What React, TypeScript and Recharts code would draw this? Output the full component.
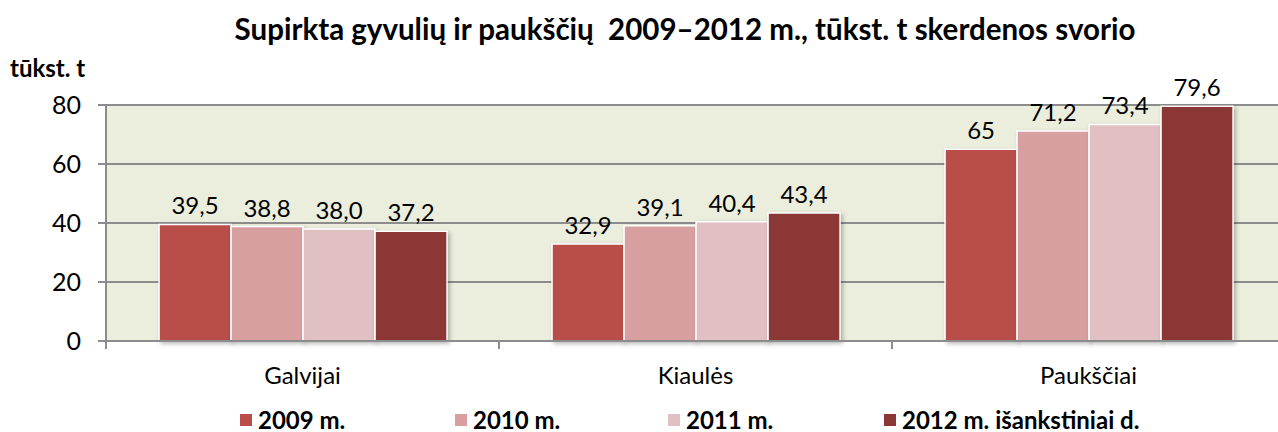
import React from 'react';
import { BarChart, Bar, XAxis, YAxis, CartesianGrid, LabelList, Rectangle } from 'recharts';

const categories = ['Galvijai', 'Kiaulės', 'Paukščiai'];
const seriesNames = ['2009 m.', '2010 m.', '2011 m.', '2012 m. išankstiniai d.'];
const v2009 = [39.5, 32.9, 65];
const v2010 = [38.8, 39.1, 71.2];
const v2011 = [38.0, 40.4, 73.4];
const v2012 = [37.2, 43.4, 79.6];
const labels2009 = ['39,5', '32,9', '65'];
const labels2010 = ['38,8', '39,1', '71,2'];
const labels2011 = ['38,0', '40,4', '73,4'];
const labels2012 = ['37,2', '43,4', '79,6'];
const yTicks = [0, 20, 40, 60, 80];
const colors = ['#B84D4A', '#D79FA0', '#E1C0C3', '#8B3735'];

const data = categories.map((c, i) => ({
  name: c,
  s0: v2009[i], s1: v2010[i], s2: v2011[i], s3: v2012[i],
  l0: labels2009[i], l1: labels2010[i], l2: labels2011[i], l3: labels2012[i],
}));

const FONT = 'Lato, "Open Sans", sans-serif';

const BarShape = (props: any) => (
  <Rectangle {...props} stroke="#ffffff" strokeWidth={1.5}
    style={{ filter: 'drop-shadow(2px 2px 2px rgba(0,0,0,0.28))' }} />
);

const XTick = (props: any) => {
  const { x, y, payload } = props;
  const off = payload && payload.offset ? payload.offset : 0;
  return (
    <g>
      <line x1={x - off} x2={x - off} y1={y} y2={y + 8} stroke="#8c8c8c" strokeWidth={2} />
      <line x1={x + off} x2={x + off} y1={y} y2={y + 8} stroke="#8c8c8c" strokeWidth={2} />
      <text x={x} y={y + 43} textAnchor="middle" fontSize={24} fontFamily={FONT} fill="#000">
        {payload.value}
      </text>
    </g>
  );
};

export default function App() {
  return (
    <div style={{ position: 'absolute', left: 0, top: 0, width: 1278, height: 432, overflow: 'hidden', background: '#fff', fontFamily: FONT }}>
      <div style={{ position: 'absolute', left: 0, width: 1370, top: 11, textAlign: 'center', fontWeight: 700, fontSize: 29.5, lineHeight: '36px', color: '#000', whiteSpace: 'pre' }}>
        {'Supirkta gyvulių ir paukščių  2009–2012 m., tūkst. t skerdenos svorio'}
      </div>
      <div style={{ position: 'absolute', left: 10, top: 53, fontWeight: 700, fontSize: 24, lineHeight: '30px', color: '#000' }}>tūkst. t</div>
      <BarChart width={1290} height={432} data={data}
        margin={{ top: 105, right: 5, left: 0, bottom: 31 }}
        barCategoryGap="13.5%" barGap={0}>
        <CartesianGrid vertical={false} stroke="#8c8c8c" strokeWidth={2} fill="#EBEEDD" />
        <YAxis width={106} domain={[0, 80]} ticks={yTicks} interval={0}
          axisLine={{ stroke: '#8c8c8c', strokeWidth: 2 }}
          tickLine={{ stroke: '#8c8c8c', strokeWidth: 2 }} tickSize={8} tickMargin={17}
          tick={{ fontSize: 25, fontFamily: FONT, fill: '#000' }} />
        <XAxis dataKey="name" height={60} tickSize={0} tickMargin={0} tickLine={false}
          axisLine={{ stroke: '#8c8c8c', strokeWidth: 2 }} tick={<XTick />} interval={0} />
        {['s0', 's1', 's2', 's3'].map((k, i) => (
          <Bar key={k} dataKey={k} name={seriesNames[i]} fill={colors[i]} isAnimationActive={false} shape={<BarShape />}>
            <LabelList dataKey={'l' + i} position="top" offset={10} fontSize={24} fontFamily={FONT} fill="#000" />
          </Bar>
        ))}
      </BarChart>
      {seriesNames.map((n, i) => (
        <div key={n} style={{ position: 'absolute', left: [240, 455, 668, 884][i], top: 407, height: 25, display: 'flex', alignItems: 'center' }}>
          <div style={{ width: 12, height: 12, background: colors[i], marginRight: 6 }} />
          <span style={{ fontWeight: 700, fontSize: 24, lineHeight: '25px', color: '#000' }}>{n}</span>
        </div>
      ))}
    </div>
  );
}
